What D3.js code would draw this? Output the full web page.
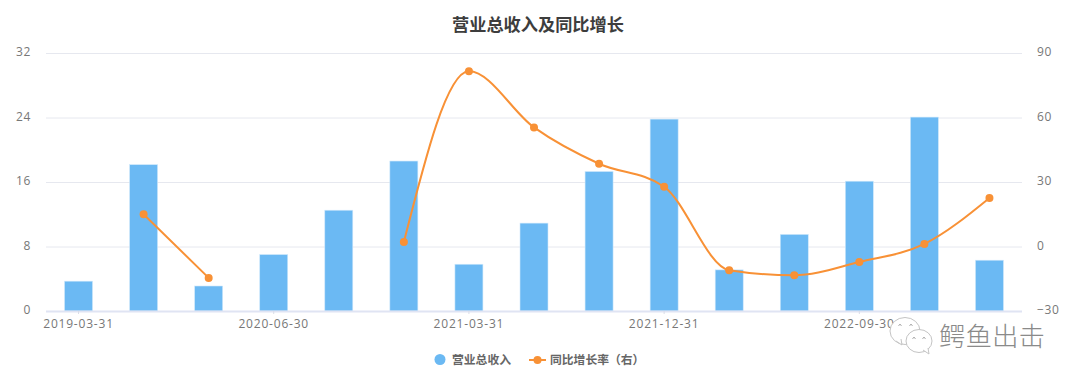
<!DOCTYPE html>
<html><head><meta charset="utf-8">
<script src="https://cdn.jsdelivr.net/npm/d3@7"></script>
<style>
html,body{margin:0;padding:0;background:#fff}
svg{display:block}
text{font-family:"Noto Sans CJK SC","Noto Sans",sans-serif}
</style></head><body><svg id="c" width="1080" height="384"></svg>
<script>
const categories=["2019-03-31","2019-12-31","2020-03-31","2020-06-30","2020-09-30","2020-12-31","2021-03-31","2021-06-30","2021-09-30","2021-12-31","2022-03-31","2022-06-30","2022-09-30","2022-12-31","2023-03-31"];
const revenue=[3.7,18.15,3.1,7.0,12.5,18.6,5.8,10.9,17.3,23.8,5.1,9.5,16.1,24.05,6.3];
const growth=[null,15,-14.6,null,null,2.1,81.5,55.4,38.5,27.8,-11,-13.4,-7.2,1.2,22.6];
const xLabels=["2019-03-31","2020-06-30","2021-03-31","2021-12-31","2022-09-30"];
const leftTicks=[0,8,16,24,32];
const rightTicks=[-30,0,30,60,90];
const title="营业总收入及同比增长";
const seriesNames=["营业总收入","同比增长率（右）"];
const watermark="鳄鱼出击";

const svg=d3.select("#c");
const m={l:46,r:1022,t:53,b:311};
const x=d3.scaleBand().domain(categories).range([m.l,m.r]);
const yL=d3.scaleLinear().domain([0,32]).range([m.b,m.t]);
const yR=d3.scaleLinear().domain([-30,90]).range([m.b,m.t]);
const cx=d=>x(d)+x.bandwidth()/2;
const blue="#6BB9F3",orange="#F89136";

svg.append("text").attr("x",538).attr("y",31).attr("text-anchor","middle")
  .attr("font-size",17.2).attr("font-weight",700).attr("fill","#3d3d3d").text(title);

// grid
svg.append("g").selectAll("line").data(leftTicks.slice(1)).join("line")
  .attr("x1",m.l).attr("x2",m.r).attr("y1",d=>yL(d)+.5).attr("y2",d=>yL(d)+.5)
  .attr("stroke","#E6E8EF").attr("stroke-width",1);

// axes
const axL=svg.append("g").attr("transform",`translate(${m.l},0)`)
  .call(d3.axisLeft(yL).tickValues(leftTicks).tickSize(0).tickPadding(15));
const axR=svg.append("g").attr("transform",`translate(${m.r},0)`)
  .call(d3.axisRight(yR).tickValues(rightTicks).tickSize(0).tickPadding(15));
[axL,axR].forEach(a=>{a.select(".domain").remove();
  a.selectAll("text").attr("font-size",12).attr("fill","#777").attr("dy","0.22em").style("font-family","'Open Sans'").style("letter-spacing","0.6px");});

// bars
svg.append("g").selectAll("rect").data(categories).join("rect")
  .attr("x",d=>cx(d)-14).attr("width",28)
  .attr("y",(d,i)=>yL(revenue[i])).attr("height",(d,i)=>m.b-yL(revenue[i]))
  .attr("fill",blue).attr("stroke","#CFE8FB").attr("stroke-width",.6);

// x axis
const axB=svg.append("g").attr("transform",`translate(0,${m.b})`)
  .call(d3.axisBottom(x).tickValues(xLabels).tickSize(3).tickPadding(5));
axB.select(".domain").attr("stroke","#E0E4F3").attr("stroke-width",1.8).attr("d",`M${m.l},0.5H${m.r}`);
axB.selectAll("line").attr("stroke","#D9DDE8");
axB.selectAll("text").attr("font-size",12).attr("fill","#777").style("font-family","'Open Sans'").style("letter-spacing","0.8px");

// line
const pts=categories.map((c,i)=>({c,v:growth[i]}));
const line=d3.line().defined(d=>d.v!==null).x(d=>cx(d.c)).y(d=>yR(d.v)).curve(d3.curveMonotoneX);
svg.append("path").datum(pts).attr("d",line).attr("fill","none").attr("stroke",orange).attr("stroke-width",2);
svg.append("g").selectAll("circle").data(pts.filter(d=>d.v!==null)).join("circle")
  .attr("cx",d=>cx(d.c)).attr("cy",d=>yR(d.v)).attr("r",4).attr("fill",orange);

// legend
const lg=svg.append("g");
lg.append("circle").attr("cx",440).attr("cy",359.5).attr("r",5.5).attr("fill",blue);
lg.append("text").attr("x",452).attr("y",364).attr("font-size",11.8).attr("font-weight",700).attr("fill","#666").text(seriesNames[0]);
lg.append("line").attr("x1",529).attr("x2",546).attr("y1",360).attr("y2",360).attr("stroke",orange).attr("stroke-width",2);
lg.append("circle").attr("cx",537.5).attr("cy",360).attr("r",4).attr("fill",orange);
lg.append("text").attr("x",550).attr("y",364).attr("font-size",11.8).attr("font-weight",700).attr("fill","#666").text(seriesNames[1]);

// watermark
const wm=svg.append("g");
const bubble=(cx0,cy0,rx,ry,tx,ty)=>{
  wm.append("ellipse").attr("cx",cx0).attr("cy",cy0).attr("rx",rx).attr("ry",ry).attr("fill","#fff").attr("stroke","#c4c4c4").attr("stroke-width",1);
  wm.append("path").attr("d",`M${tx},${ty}l6,4l-1,-6`).attr("fill","#fff").attr("stroke","#c4c4c4").attr("stroke-width",1);
};
bubble(905,331,15,13.5,896,341);
bubble(919,341,13,11.5,923,350);
[[900,325],[911,325],[914,338],[924,338]].forEach(p=>wm.append("path").attr("d",`M${p[0]-1.5},${p[1]+1}l1.5,-2l1.5,2`).attr("fill","none").attr("stroke","#999").attr("stroke-width",.8));
wm.append("text").attr("x",939).attr("y",346).attr("font-size",26.5).attr("font-weight",300).attr("fill","#8a8a8a").text(watermark);
</script></body></html>
